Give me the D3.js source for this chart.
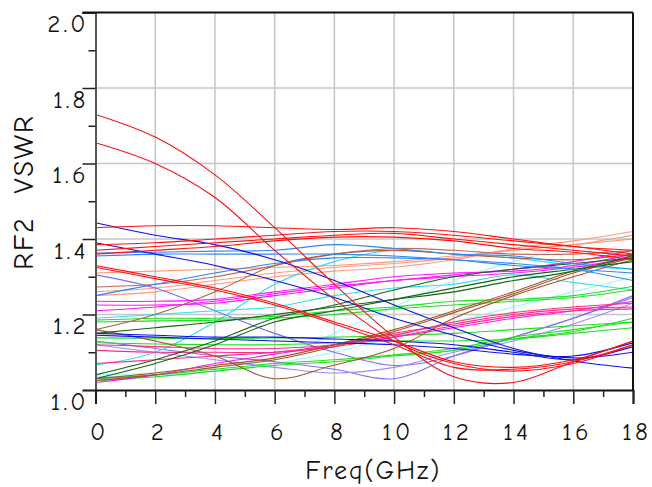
<!DOCTYPE html>
<html lang="en">
<head>
<meta charset="UTF-8">
<title>RF2 VSWR</title>
<script src="https://cdn.jsdelivr.net/npm/d3@7"></script>
<style>
  body { margin: 0; background: #fff; }
  svg { display: block; }
  text { font-family: "Comic Sans MS", "Comic Neue", "Open Sans", sans-serif; fill: #111; }
</style>
</head>
<body>
<div id="chart"></div>
<script>
// frequency grid (GHz)
const freq = [0, 2, 4, 6, 8, 10, 12, 14, 16, 18];
const xTicks = [0, 2, 4, 6, 8, 10, 12, 14, 16, 18];
const xMinor = [1, 3, 5, 7, 9, 11, 13, 15, 17];
const yTicks = [1.0, 1.2, 1.4, 1.6, 1.8, 2.0];
const yMinor = [1.1, 1.3, 1.5, 1.7, 1.9];

// VSWR traces
const redA = [1.73, 1.67, 1.57, 1.43, 1.28, 1.14, 1.035, 1.02, 1.075, 1.13];
const redB = [1.655, 1.60, 1.51, 1.37, 1.24, 1.13, 1.07, 1.05, 1.07, 1.12];
const redTop = [1.43, 1.435, 1.435, 1.43, 1.425, 1.43, 1.42, 1.40, 1.38, 1.37];
const redRise1 = [1.385, 1.39, 1.40, 1.41, 1.42, 1.42, 1.41, 1.395, 1.38, 1.36];
const redRise2 = [1.37, 1.38, 1.39, 1.40, 1.41, 1.415, 1.40, 1.385, 1.37, 1.355];
const redRise3 = [1.36, 1.37, 1.38, 1.395, 1.405, 1.405, 1.395, 1.375, 1.365, 1.345];
const redDec1 = [1.33, 1.30, 1.27, 1.23, 1.18, 1.13, 1.075, 1.06, 1.08, 1.13];
const redDec2 = [1.325, 1.295, 1.265, 1.225, 1.175, 1.12, 1.06, 1.055, 1.075, 1.12];

const blue1 = [1.443, 1.41, 1.385, 1.345, 1.29, 1.225, 1.165, 1.11, 1.077, 1.058];
const blue2 = [1.39, 1.36, 1.33, 1.29, 1.245, 1.19, 1.145, 1.105, 1.085, 1.10];
const blueLow1 = [1.15, 1.145, 1.14, 1.14, 1.135, 1.13, 1.12, 1.10, 1.08, 1.115];
const blueLow2 = [1.145, 1.14, 1.135, 1.13, 1.125, 1.12, 1.11, 1.095, 1.09, 1.125];

const azure1 = [1.363, 1.365, 1.368, 1.37, 1.385, 1.375, 1.36, 1.355, 1.335, 1.32];
const azure2 = [1.25, 1.28, 1.31, 1.335, 1.35, 1.35, 1.345, 1.335, 1.32, 1.29];
const azure3 = [1.355, 1.36, 1.36, 1.36, 1.36, 1.355, 1.345, 1.33, 1.32, 1.31];

const salmon1 = [1.31, 1.315, 1.32, 1.325, 1.33, 1.34, 1.355, 1.37, 1.385, 1.40];
const salmon2 = [1.26, 1.27, 1.29, 1.31, 1.325, 1.335, 1.35, 1.37, 1.385, 1.41];
const salmon3 = [1.25, 1.26, 1.28, 1.30, 1.315, 1.325, 1.345, 1.375, 1.395, 1.42];

const rosy1 = [1.273, 1.28, 1.30, 1.33, 1.36, 1.375, 1.37, 1.36, 1.36, 1.37];
const sienna1 = [1.16, 1.20, 1.26, 1.33, 1.36, 1.37, 1.36, 1.35, 1.345, 1.36];
const brown1 = [1.03, 1.045, 1.065, 1.085, 1.12, 1.16, 1.21, 1.26, 1.315, 1.355];
const brown2 = [1.025, 1.04, 1.06, 1.08, 1.115, 1.155, 1.205, 1.255, 1.31, 1.35];
const brownV = [1.16, 1.13, 1.09, 1.03, 1.066, 1.11, 1.19, 1.25, 1.30, 1.345];

const mag1 = [1.235, 1.235, 1.24, 1.26, 1.28, 1.30, 1.31, 1.315, 1.33, 1.36];
const mag2 = [1.225, 1.225, 1.23, 1.25, 1.27, 1.29, 1.30, 1.31, 1.325, 1.35];
const mag3 = [1.02, 1.04, 1.07, 1.095, 1.12, 1.14, 1.165, 1.19, 1.21, 1.235];
const mag4 = [1.21, 1.22, 1.235, 1.255, 1.275, 1.29, 1.305, 1.32, 1.34, 1.37];

const pink1 = [1.12, 1.115, 1.11, 1.11, 1.12, 1.145, 1.18, 1.205, 1.22, 1.23];
const pink2 = [1.105, 1.10, 1.10, 1.10, 1.115, 1.14, 1.17, 1.195, 1.21, 1.215];
const pink3 = [1.07, 1.08, 1.09, 1.10, 1.12, 1.15, 1.175, 1.20, 1.215, 1.22];

const green1 = [1.185, 1.19, 1.19, 1.195, 1.21, 1.22, 1.235, 1.24, 1.25, 1.275];
const green2 = [1.18, 1.183, 1.185, 1.19, 1.20, 1.215, 1.225, 1.235, 1.245, 1.265];
const green3 = [1.138, 1.137, 1.136, 1.138, 1.14, 1.145, 1.15, 1.16, 1.17, 1.18];
const green4 = [1.125, 1.122, 1.12, 1.12, 1.125, 1.13, 1.13, 1.135, 1.15, 1.165];
const green5 = [1.03, 1.04, 1.055, 1.07, 1.08, 1.093, 1.11, 1.14, 1.16, 1.18];
const green6 = [1.025, 1.035, 1.05, 1.065, 1.075, 1.09, 1.105, 1.135, 1.155, 1.19];

const dgreen1 = [1.15, 1.165, 1.18, 1.20, 1.22, 1.24, 1.26, 1.29, 1.315, 1.357];
const dgreen2 = [1.04, 1.08, 1.13, 1.19, 1.225, 1.265, 1.30, 1.32, 1.335, 1.35];
const dgreen3 = [1.03, 1.07, 1.12, 1.18, 1.21, 1.24, 1.27, 1.30, 1.32, 1.34];

const cyan1 = [1.066, 1.10, 1.18, 1.28, 1.34, 1.37, 1.36, 1.35, 1.33, 1.32];
const cyan2 = [1.19, 1.20, 1.21, 1.22, 1.25, 1.27, 1.28, 1.305, 1.285, 1.265];
const lcyan1 = [1.04, 1.045, 1.06, 1.085, 1.15, 1.22, 1.29, 1.34, 1.38, 1.41];
const lcyan2 = [1.035, 1.04, 1.05, 1.07, 1.10, 1.14, 1.18, 1.22, 1.26, 1.30];

const purple1 = [1.305, 1.27, 1.21, 1.15, 1.10, 1.065, 1.09, 1.14, 1.19, 1.25];
const purple2 = [1.13, 1.11, 1.09, 1.075, 1.055, 1.03, 1.09, 1.14, 1.19, 1.245];
const purple3 = [1.12, 1.10, 1.08, 1.06, 1.045, 1.06, 1.10, 1.13, 1.175, 1.23];

const traces = [
  [lcyan1, "#9cf4ff"], [lcyan2, "#9cf4ff"],
  [salmon1, "#ff9a7c"], [salmon2, "#ff9a7c"], [salmon3, "#ff9a7c"],
  [purple1, "#7f6ef4"], [purple2, "#7f6ef4"], [purple3, "#9a8cf8"],
  [cyan1, "#2ee0f2"], [cyan2, "#2ee0f2"],
  [green1, "#1ee01e"], [green2, "#1ee01e"], [green3, "#1ee01e"],
  [green4, "#1ee01e"], [green5, "#1ee01e"], [green6, "#1ee01e"],
  [mag1, "#ff14ff"], [mag2, "#ff14ff"], [mag3, "#ff14ff"], [mag4, "#ff14ff"],
  [pink1, "#ff2a88"], [pink2, "#ff2a88"], [pink3, "#ff2a88"],
  [rosy1, "#c06a5a"], [sienna1, "#b0603c"],
  [brown1, "#a5522c"], [brown2, "#a5522c"], [brownV, "#a5522c"],
  [dgreen1, "#126512"], [dgreen2, "#126512"], [dgreen3, "#126512"],
  [azure1, "#2f86f6"], [azure2, "#2f86f6"], [azure3, "#2f86f6"],
  [blue1, "#0c12e6"], [blue2, "#0c12e6"], [blueLow1, "#0c12e6"], [blueLow2, "#0c12e6"],
  [redTop, "#ff1010"], [redRise1, "#ff1010"], [redRise2, "#ff1010"], [redRise3, "#ff1010"],
  [redDec1, "#ff1010"], [redDec2, "#ff1010"], [redA, "#ff1010"], [redB, "#ff1010"]
];

const width = 652, height = 487;
const plotL = 95.5, plotR = 633, plotT = 12.5, plotB = 390;

const svg = d3.select("#chart").append("svg")
  .attr("width", width).attr("height", height);

const x = d3.scaleLinear().domain([0, 18]).range([plotL, plotR]);
const y = d3.scaleLinear().domain([1, 2]).range([plotB, plotT]);

// grid
svg.append("g").selectAll("line")
  .data(xTicks.slice(1, -1)).join("line")
  .attr("x1", d => x(d)).attr("x2", d => x(d))
  .attr("y1", plotT).attr("y2", plotB)
  .attr("stroke", "#c6c6c6").attr("stroke-width", 1.5);
svg.append("g").selectAll("line")
  .data(yTicks.slice(1, -1)).join("line")
  .attr("x1", plotL).attr("x2", plotR)
  .attr("y1", d => y(d)).attr("y2", d => y(d))
  .attr("stroke", "#c6c6c6").attr("stroke-width", 1.5);

// traces
svg.append("clipPath").attr("id", "plot")
  .append("rect").attr("x", plotL).attr("y", plotT)
  .attr("width", plotR - plotL).attr("height", plotB - plotT);

const line = d3.line()
  .x((d, i) => x(freq[i]))
  .y(d => y(d))
  .curve(d3.curveCatmullRom.alpha(0.5));

svg.append("g").attr("clip-path", "url(#plot)")
  .selectAll("path").data(traces).join("path")
  .attr("d", d => line(d[0]))
  .attr("fill", "none")
  .attr("stroke", d => d[1])
  .attr("stroke-width", 1.1);

// axes
const yAxis = svg.append("g").attr("transform", `translate(${plotL},0)`)
  .call(d3.axisLeft(y).tickValues(yTicks).tickSize(13).tickFormat(d3.format(".1f")));
yAxis.select(".domain").attr("stroke", "#555").attr("stroke-width", 2);
yAxis.selectAll(".tick line").attr("stroke", "#222").attr("stroke-width", 1.5);
yAxis.selectAll(".tick text")
  .attr("x", -7).attr("y", 11)
  .style("font-size", "25px").style("letter-spacing", "3px");

const yAxisMinor = svg.append("g").attr("transform", `translate(${plotL},0)`)
  .call(d3.axisLeft(y).tickValues(yMinor).tickSize(7).tickFormat(""));
yAxisMinor.select(".domain").remove();
yAxisMinor.selectAll(".tick line").attr("stroke", "#222").attr("stroke-width", 1.5);

const xAxis = svg.append("g").attr("transform", `translate(0,${plotB})`)
  .call(d3.axisBottom(x).tickValues(xTicks).tickSize(14));
xAxis.select(".domain").attr("stroke", "#111").attr("stroke-width", 2);
xAxis.selectAll(".tick line").attr("stroke", "#222").attr("stroke-width", 1.5);
xAxis.selectAll(".tick text")
  .attr("y", 32).attr("x", 3)
  .style("font-size", "25px").style("letter-spacing", "3px");

const xAxisMinor = svg.append("g").attr("transform", `translate(0,${plotB})`)
  .call(d3.axisBottom(x).tickValues(xMinor).tickSize(7).tickFormat(""));
xAxisMinor.select(".domain").remove();
xAxisMinor.selectAll(".tick line").attr("stroke", "#222").attr("stroke-width", 1.5);

// frame: top and right
svg.append("line")
  .attr("x1", plotL - 13).attr("x2", plotR)
  .attr("y1", plotT).attr("y2", plotT)
  .attr("stroke", "#111").attr("stroke-width", 2);
svg.append("line")
  .attr("x1", plotR).attr("x2", plotR)
  .attr("y1", plotT).attr("y2", plotB)
  .attr("stroke", "#111").attr("stroke-width", 2);

// titles
svg.append("text")
  .attr("x", (plotL + plotR) / 2 + 9).attr("y", 479)
  .attr("text-anchor", "middle")
  .style("font-size", "26px").style("letter-spacing", "2px")
  .text("Freq(GHz)");

svg.append("text")
  .attr("transform", "translate(33,192) rotate(-90)")
  .attr("text-anchor", "middle")
  .style("font-size", "28px").style("letter-spacing", "2px")
  .text("RF2\u00a0\u00a0VSWR");
</script>
</body>
</html>
